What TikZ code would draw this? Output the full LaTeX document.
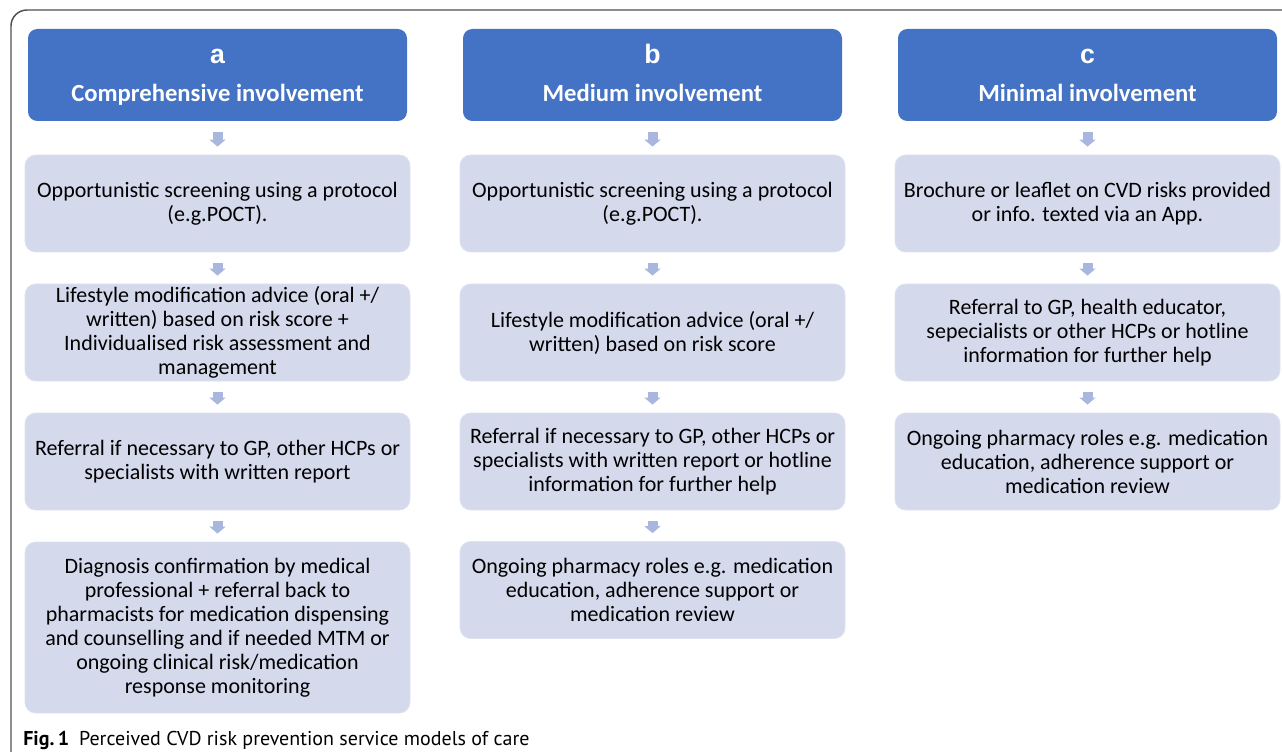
\documentclass[tikz,border=0pt]{standalone}
\usepackage{fontspec}
\setmainfont{Carlito}
\newfontfamily\lettersf{Liberation Sans}
\newfontfamily\capsf{PT Sans}
\usetikzlibrary{arrows.meta}
\definecolor{headblue}{HTML}{4472C4}
\definecolor{stepfill}{HTML}{D4D9EC}
\definecolor{stepline}{HTML}{DFE2F1}
\definecolor{flowblue}{HTML}{A9B7DE}
\definecolor{framegray}{HTML}{505050}
\tikzset{
  headbox/.style={fill=headblue, rounded corners=7pt, minimum width=284.25pt,
    minimum height=69pt, inner sep=0pt, text=white, align=center,
    font=\bfseries\fontsize{18.5}{28.5}\selectfont},
  stepbox/.style={fill=stepfill, draw=stepline, line width=0.6pt, rounded corners=8pt,
    minimum width=288.75pt, minimum height=72.75pt, inner sep=0pt, align=center,
    font=\fontsize{16.5}{18}\selectfont},
  flow/.style={flowblue, line width=7.5pt, shorten <=8.25pt, shorten >=6pt,
    -{Triangle[width=12pt,length=5.25pt]}},
}
\newcommand\headletter[1]{{\lettersf\fontsize{20}{28.5}\selectfont #1}\strut}
\begin{document}
\begin{tikzpicture}[x=0.75pt,y=-0.75pt]
    \useasboundingbox (0,0) rectangle (1282,752);
    \clip (0,0) rectangle (1282,752);
    \draw [framegray, line width=1.1pt, rounded corners=12pt] (11,790) -- (11,10) -- (1320,10);

    % column a
    \node [headbox] (a0) at (217.5,75) {\headletter{a}\\Comprehensive involvement\strut};
    \node [stepbox] (a1) at (217.5,203.5) {Opportunistic screening using a protocol\\(e.g.POCT).};
    \node [stepbox] (a2) at (217.5,332.5) {Lifestyle modification advice (oral +/\\written) based on risk score +\\Individualised risk assessment and\\management};
    \node [stepbox] (a3) at (217.5,461.5) {Referral if necessary to GP, other HCPs or\\specialists with written report};
    \node [stepbox, minimum height=128.25pt] (a4) at (217.5,627.5) {Diagnosis confirmation by medical\\professional + referral back to\\pharmacists for medication dispensing\\and counselling and if needed MTM or\\ongoing clinical risk/medication\\response monitoring};
    \draw [flow] (a0) -- (a1);
    \draw [flow] (a1) -- (a2);
    \draw [flow] (a2) -- (a3);
    \draw [flow] (a3) -- (a4);

    % column b
    \node [headbox] (b0) at (652.5,75) {\headletter{b}\\Medium involvement\strut};
    \node [stepbox] (b1) at (652.5,203.5) {Opportunistic screening using a protocol\\(e.g.POCT).};
    \node [stepbox] (b2) at (652.5,332.5) {Lifestyle modification advice (oral +/\\written) based on risk score};
    \node [stepbox] (b3) at (652.5,461.5) {Referral if necessary to GP, other HCPs or\\specialists with written report or hotline\\information for further help};
    \node [stepbox] (b4) at (652.5,590) {Ongoing pharmacy roles e.g. medication\\education, adherence support or\\medication review};
    \draw [flow] (b0) -- (b1);
    \draw [flow] (b1) -- (b2);
    \draw [flow] (b2) -- (b3);
    \draw [flow] (b3) -- (b4);

    % column c
    \node [headbox] (c0) at (1087.5,75) {\headletter{c}\\Minimal involvement\strut};
    \node [stepbox] (c1) at (1087.5,203.5) {Brochure or leaflet on CVD risks provided\\or info. texted via an App.};
    \node [stepbox] (c2) at (1087.5,332.5) {Referral to GP, health educator,\\sepecialists or other HCPs or hotline\\information for further help};
    \node [stepbox] (c3) at (1087.5,461.5) {Ongoing pharmacy roles e.g. medication\\education, adherence support or\\medication review};
    \draw [flow] (c0) -- (c1);
    \draw [flow] (c1) -- (c2);
    \draw [flow] (c2) -- (c3);

    \node [anchor=base west, inner sep=0pt, font=\capsf\fontsize{15}{17}\selectfont] (cap) at (23,745)
      {\textbf{Fig.\,1}\enspace Perceived CVD risk prevention service models of care};
\end{tikzpicture}
\end{document}
